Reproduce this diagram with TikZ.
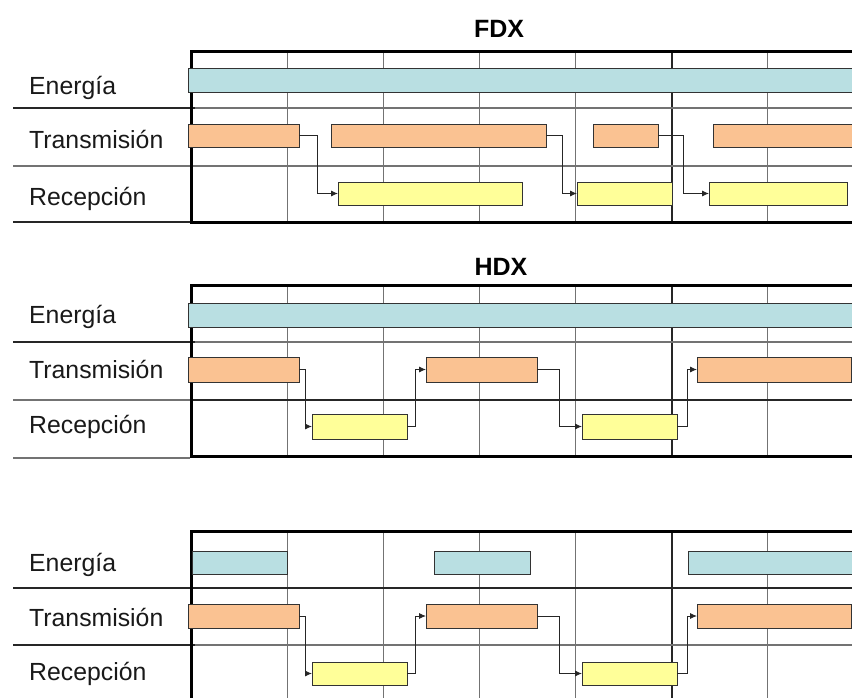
\documentclass[tikz,border=0pt]{standalone}
\usepackage{fontspec}
\setmainfont{Liberation Sans}
\usetikzlibrary{arrows.meta}
\definecolor{ecol}{RGB}{185,223,226}
\definecolor{tcol}{RGB}{250,194,146}
\definecolor{rcol}{RGB}{255,255,153}
\definecolor{gridc}{RGB}{115,115,115}
\newcommand\mkbar[6]{\node[#6, anchor=north west, minimum width={(#4-#2)*1pt}, minimum height={(#5-#3)*1pt}] (#1) at (#2,#3) {};}
\begin{document}
\begin{tikzpicture}[x=1pt,y=-1pt,
 barbase/.style={draw=black!80, line width=0.9pt, inner sep=0pt, outer sep=0pt},
 ebar/.style={barbase, fill=ecol},
 tbar/.style={barbase, fill=tcol},
 rbar/.style={barbase, fill=rcol},
 gridline/.style={draw=gridc, line width=1.3pt},
 darkline/.style={draw=black!85, line width=1.3pt},
 midline/.style={draw=black!85, line width=2pt},
 frameline/.style={draw=black, line width=3pt},
 conn/.style={draw=black!85, line width=0.9pt, -{Latex[length=7pt,width=6pt]}},
 lab/.style={anchor=base west, inner sep=0pt, font=\fontsize{24.8}{29}\selectfont, text=black!90},
 title/.style={anchor=base, inner sep=0pt, font=\fontsize{25}{30}\selectfont\bfseries}
]
\useasboundingbox (0,0) rectangle (852,697);
\clip (0,0) rectangle (852,697);
\fill[white] (0,0) rectangle (852,697);

% ================= FDX =================
\node[title] (tfdx) at (499,37) {FDX};
\foreach \xx in {287.5,383.5,479.5,575.5,767.5} \draw[gridline] (\xx,51) -- (\xx,222);
\draw[midline] (671.5,51) -- (671.5,222);
\draw[gridline] (190,108) -- (852,108);
\draw[darkline] (13,108) -- (195,108);
\draw[gridline] (13,166) -- (852,166);
\draw[darkline] (13,222) -- (190,222);
\draw[frameline] (191.5,222) -- (191.5,51) -- (860,51);
\draw[frameline] (190,222) -- (860,222);
\node[lab] (ae) at (29,94) {Energía};
\node[lab] (at) at (29,148) {Transmisión};
\node[lab] (ar) at (29,205) {Recepción};
\mkbar{aE}{188}{68}{870}{92}{ebar}
\mkbar{aT1}{188}{124}{299}{147}{tbar}
\mkbar{aT2}{331}{124}{546}{147}{tbar}
\mkbar{aT3}{593}{124}{658}{147}{tbar}
\mkbar{aT4}{713}{124}{870}{147}{tbar}
\mkbar{aR1}{338}{182}{522}{205}{rbar}
\mkbar{aR2}{577}{182}{672}{205}{rbar}
\mkbar{aR3}{709}{182}{847}{205}{rbar}
\draw[conn] (aT1.east) -- ++(18,0) |- (aR1.west);
\draw[conn] (aT2.east) -- ++(16,0) |- (aR2.west);
\draw[conn] (aT3.east) -- ++(25,0) |- (aR3.west);

% ================= HDX =================
\node[title] (thdx) at (501,275) {HDX};
\foreach \xx in {287.5,383.5,479.5,575.5,767.5} \draw[gridline] (\xx,285) -- (\xx,456);
\draw[midline] (671.5,285) -- (671.5,456);
\draw[gridline] (190,342) -- (852,342);
\draw[darkline] (13,342) -- (195,342);
\draw[gridline] (13,400) -- (190,400);
\draw[darkline] (190,400) -- (852,400);
\draw[gridline] (13,458) -- (190,458);
\draw[frameline] (191.5,456) -- (191.5,285) -- (860,285);
\draw[frameline] (190,456) -- (860,456);
\node[lab] (be) at (29,323) {Energía};
\node[lab] (bt) at (29,378) {Transmisión};
\node[lab] (br) at (29,433) {Recepción};
\mkbar{bE}{188}{303}{870}{327}{ebar}
\mkbar{bT1}{188}{357}{299}{382}{tbar}
\mkbar{bT2}{426}{357}{537}{382}{tbar}
\mkbar{bT3}{697}{357}{851}{382}{tbar}
\mkbar{bR1}{312}{414}{407}{439}{rbar}
\mkbar{bR2}{582}{414}{677}{439}{rbar}
\draw[conn] (bT1.east) -- ++(6,0) |- (bR1.west);
\draw[conn] (bR1.east) -- ++(8,0) |- (bT2.west);
\draw[conn] (bT2.east) -- ++(22,0) |- (bR2.west);
\draw[conn] (bR2.east) -- ++(10,0) |- (bT3.west);

% ================= third panel =================
\foreach \xx in {287.5,383.5,479.5,575.5,767.5} \draw[gridline] (\xx,531) -- (\xx,700);
\draw[midline] (671.5,531) -- (671.5,700);
\draw[darkline] (13,588) -- (852,588);
\draw[gridline] (190,645) -- (852,645);
\draw[darkline] (13,645) -- (195,645);
\draw[frameline] (191.5,700) -- (191.5,531) -- (860,531);
\node[lab] (ce) at (29,571) {Energía};
\node[lab] (ct) at (29,626) {Transmisión};
\node[lab] (cr) at (29,680) {Recepción};
\mkbar{cE1}{192}{551}{287}{574}{ebar}
\mkbar{cE2}{434}{551}{530}{574}{ebar}
\mkbar{cE3}{688}{551}{870}{574}{ebar}
\mkbar{cT1}{188}{604}{299}{628}{tbar}
\mkbar{cT2}{426}{604}{537}{628}{tbar}
\mkbar{cT3}{697}{604}{851}{628}{tbar}
\mkbar{cR1}{312}{662}{407}{685}{rbar}
\mkbar{cR2}{582}{662}{677}{685}{rbar}
\draw[conn] (cT1.east) -- ++(6,0) |- (cR1.west);
\draw[conn] (cR1.east) -- ++(8,0) |- (cT2.west);
\draw[conn] (cT2.east) -- ++(22,0) |- (cR2.west);
\draw[conn] (cR2.east) -- ++(10,0) |- (cT3.west);
\end{tikzpicture}
\end{document}
